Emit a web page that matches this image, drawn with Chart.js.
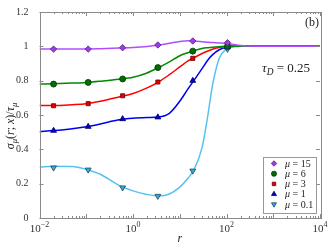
<!DOCTYPE html>
<html>
<head>
<meta charset="utf-8">
<script src="https://cdn.jsdelivr.net/npm/chart.js@4"></script>
<style>
  body { margin: 0; background: #fff; }
  canvas { display: block; }
</style>
</head>
<body>
<canvas id="chart" width="332" height="249"></canvas>
<script>
// sample points along the smooth curves
const curveR = [0.01, 0.02, 0.05, 0.1, 0.2, 0.5, 1, 2, 3.5, 6, 10, 15, 20, 30, 40, 50, 70, 100, 150, 200, 300, 500, 1000, 10000];
const curveMu15 = [0.984, 0.984, 0.984, 0.984, 0.986, 0.990, 0.993, 0.999, 1.008, 1.018, 1.028, 1.033, 1.031, 1.027, 1.024, 1.022, 1.020, 1.017, 1.010, 1.005, 1.002, 1.0, 1.0, 1.0];
const curveMu6 = [0.780, 0.782, 0.786, 0.790, 0.797, 0.808, 0.820, 0.845, 0.876, 0.910, 0.945, 0.963, 0.974, 0.987, 0.992, 0.995, 0.998, 1.0, 1.0, 1.0, 1.0, 1.0, 1.0, 1.0];
const curveMu3 = [0.655, 0.655, 0.660, 0.666, 0.680, 0.705, 0.725, 0.758, 0.792, 0.835, 0.880, 0.915, 0.933, 0.958, 0.973, 0.983, 0.993, 1.0, 1.0, 1.0, 1.0, 1.0, 1.0, 1.0];
const curveMu1 = [0.503, 0.509, 0.520, 0.532, 0.548, 0.572, 0.581, 0.585, 0.588, 0.610, 0.680, 0.752, 0.800, 0.870, 0.920, 0.950, 0.980, 0.995, 1.0, 1.0, 1.0, 1.0, 1.0, 1.0];
const curveMu01 = [0.295, 0.302, 0.300, 0.283, 0.255, 0.190, 0.158, 0.137, 0.128, 0.140, 0.180, 0.232, 0.280, 0.410, 0.600, 0.770, 0.930, 0.985, 0.998, 1.0, 1.0, 1.0, 1.0, 1.0];

// marker positions
const markerR = [0.02, 0.11, 0.6, 3.4, 19, 105];
const markMu15 = [0.984, 0.984, 0.992, 1.008, 1.031, 1.021];
const markMu6 = [0.780, 0.790, 0.810, 0.876, 0.972, 1.0];
const markMu3 = [0.654, 0.666, 0.712, 0.792, 0.930, 1.004];
const markMu1 = [0.509, 0.532, 0.577, 0.587, 0.800, 0.995];
const markMu01 = [0.293, 0.281, 0.177, 0.128, 0.275, 0.984];

const seriesLabels = ['15', '6', '3', '1', '0.1'];
const xTickExps = [-2, 0, 2, 4];
const yTicks = [0, 0.2, 0.4, 0.6, 0.8, 1, 1.2];

const SERIF = '"Liberation Serif", "DejaVu Serif", serif';

const styles = [
  { line: '#b24dff', fill: '#9a3ee0', edge: '#5a1a88', point: 'rectRot', radius: 3.2, rot: 0 },
  { line: '#008a00', fill: '#007000', edge: '#003300', point: 'circle', radius: 3, rot: 0 },
  { line: '#ff0000', fill: '#e00000', edge: '#700000', point: 'rect', radius: 2.9, rot: 0 },
  { line: '#0000f0', fill: '#0000d0', edge: '#000060', point: 'triangle', radius: 3.4, rot: 0 },
  { line: '#55c2f2', fill: '#3aa6d8', edge: '#1a4a66', point: 'triangle', radius: 3.4, rot: 180 }
];

const curves = [curveMu15, curveMu6, curveMu3, curveMu1, curveMu01];
const marks = [markMu15, markMu6, markMu3, markMu1, markMu01];

const datasets = [];
curves.forEach((vals, i) => {
  datasets.push({
    label: 'curve ' + seriesLabels[i],
    data: curveR.map((r, j) => ({ x: r, y: vals[j] })),
    showLine: true,
    borderColor: styles[i].line,
    borderWidth: 1.5,
    pointRadius: 0,
    cubicInterpolationMode: 'monotone',
    order: 2
  });
});
marks.forEach((vals, i) => {
  datasets.push({
    label: seriesLabels[i],
    data: markerR.map((r, j) => ({ x: r, y: vals[j] })),
    showLine: false,
    pointStyle: styles[i].point,
    pointRadius: styles[i].radius,
    pointRotation: styles[i].rot,
    backgroundColor: styles[i].fill,
    borderColor: styles[i].edge,
    borderWidth: 0.8,
    order: 1
  });
});

// draw text made of pieces, some italic, subscript or superscript
function richText(ctx, parts, x, y, size, align) {
  const fontOf = p => (p.it ? 'italic ' : '') + ((p.sub || p.sup) ? size * 0.72 : size) + 'px ' + SERIF;
  let total = 0;
  parts.forEach(p => { ctx.font = fontOf(p); total += ctx.measureText(p.t).width; });
  let cx = align === 'center' ? x - total / 2 : x;
  ctx.textAlign = 'left';
  ctx.textBaseline = 'alphabetic';
  parts.forEach(p => {
    ctx.font = fontOf(p);
    let yy = y;
    if (p.sub) yy = y + size * 0.22;
    if (p.sup) yy = y - size * 0.42;
    ctx.fillText(p.t, cx, yy);
    cx += ctx.measureText(p.t).width;
  });
}

const decorations = {
  id: 'decorations',
  afterDraw(chart) {
    const ctx = chart.ctx;
    const a = chart.chartArea;
    const xs = chart.scales.x, ys = chart.scales.y;
    ctx.save();
    ctx.strokeStyle = '#8a8a8a';
    ctx.lineWidth = 1;
    ctx.strokeRect(Math.round(a.left) + 0.5, Math.round(a.top) + 0.5, Math.round(a.right - a.left), Math.round(a.bottom - a.top));

    // x ticks, inward, bottom and top
    ctx.beginPath();
    for (let e = -2; e <= 4; e++) {
      for (let k = 1; k <= 9; k++) {
        const v = k * Math.pow(10, e);
        if (v > 10000) break;
        const px = Math.round(xs.getPixelForValue(v)) + 0.5;
        const len = k === 1 ? 4 : 2;
        ctx.moveTo(px, a.bottom); ctx.lineTo(px, a.bottom - len);
        ctx.moveTo(px, a.top); ctx.lineTo(px, a.top + len);
      }
    }
    yTicks.forEach(v => {
      const py = Math.round(ys.getPixelForValue(v)) + 0.5;
      ctx.moveTo(a.left, py); ctx.lineTo(a.left + 4, py);
      ctx.moveTo(a.right, py); ctx.lineTo(a.right - 4, py);
    });
    ctx.stroke();

    // x tick labels as 10 with a raised exponent
    ctx.fillStyle = '#333';
    xTickExps.forEach(e => {
      const px = xs.getPixelForValue(Math.pow(10, e));
      richText(ctx, [{ t: '10' }, { t: e < 0 ? '−' + (-e) : String(e), sup: true }], px, 232, 11, 'center');
    });

    ctx.fillStyle = '#222';
    // axis labels
    richText(ctx, [{ t: 'r', it: true }], (a.left + a.right) / 2, 242, 12, 'center');
    ctx.save();
    ctx.translate(14, 126);
    ctx.rotate(-Math.PI / 2);
    richText(ctx, [
      { t: 'σ', it: true }, { t: 'μ', it: true, sub: true }, { t: '(' }, { t: 'r', it: true },
      { t: '; ' }, { t: 'x', it: true }, { t: ')/' }, { t: 'τ', it: true }, { t: 'μ', it: true, sub: true }
    ], 0, 0, 12, 'center');
    ctx.restore();

    // annotations
    richText(ctx, [{ t: '(b)' }], 305, 26, 12, 'left');
    richText(ctx, [{ t: 'τ', it: true }, { t: 'D', it: true, sub: true }, { t: ' = 0.25' }], 262, 72, 13, 'left');

    // legend box
    const lx = 263.5, ly = 157.5, lw = 53, lh = 56;
    ctx.fillStyle = '#fff';
    ctx.fillRect(lx, ly, lw, lh);
    ctx.strokeStyle = '#999';
    ctx.strokeRect(lx, ly, lw, lh);
    seriesLabels.forEach((lab, i) => {
      const yy = 163.5 + i * 10.2;
      ctx.fillStyle = styles[i].fill;
      ctx.strokeStyle = styles[i].edge;
      ctx.lineWidth = 0.8;
      Chart.helpers.drawPoint(ctx, { pointStyle: styles[i].point, radius: styles[i].radius * 0.85, rotation: styles[i].rot, borderWidth: 0.8 }, 274, yy);
      ctx.fillStyle = '#222';
      richText(ctx, [{ t: 'μ', it: true }, { t: ' = ' + lab }], 285, yy + 3.3, 10, 'left');
    });
    ctx.restore();
  }
};

const ctx = document.getElementById('chart').getContext('2d');
new Chart(ctx, {
  type: 'scatter',
  data: { datasets },
  options: {
    responsive: false,
    animation: false,
    layout: { padding: { top: 12, right: 12, left: 0, bottom: 0 } },
    plugins: { legend: { display: false }, tooltip: { enabled: false } },
    scales: {
      x: {
        type: 'logarithmic',
        min: 0.01,
        max: 10000,
        grid: { display: false },
        border: { display: false },
        afterBuildTicks: s => { s.ticks = xTickExps.map(e => ({ value: Math.pow(10, e) })); },
        afterFit: s => { s.height = 31; },
        ticks: { display: false }
      },
      y: {
        min: 0,
        max: 1.2,
        grid: { display: false },
        border: { display: false },
        afterBuildTicks: s => { s.ticks = yTicks.map(v => ({ value: v })); },
        afterFit: s => { s.width = 39.5; },
        ticks: {
          padding: 3,
          color: '#333',
          font: { family: SERIF, size: 10 },
          callback: v => String(+v.toFixed(1))
        }
      }
    }
  },
  plugins: [decorations]
});
</script>
</body>
</html>
